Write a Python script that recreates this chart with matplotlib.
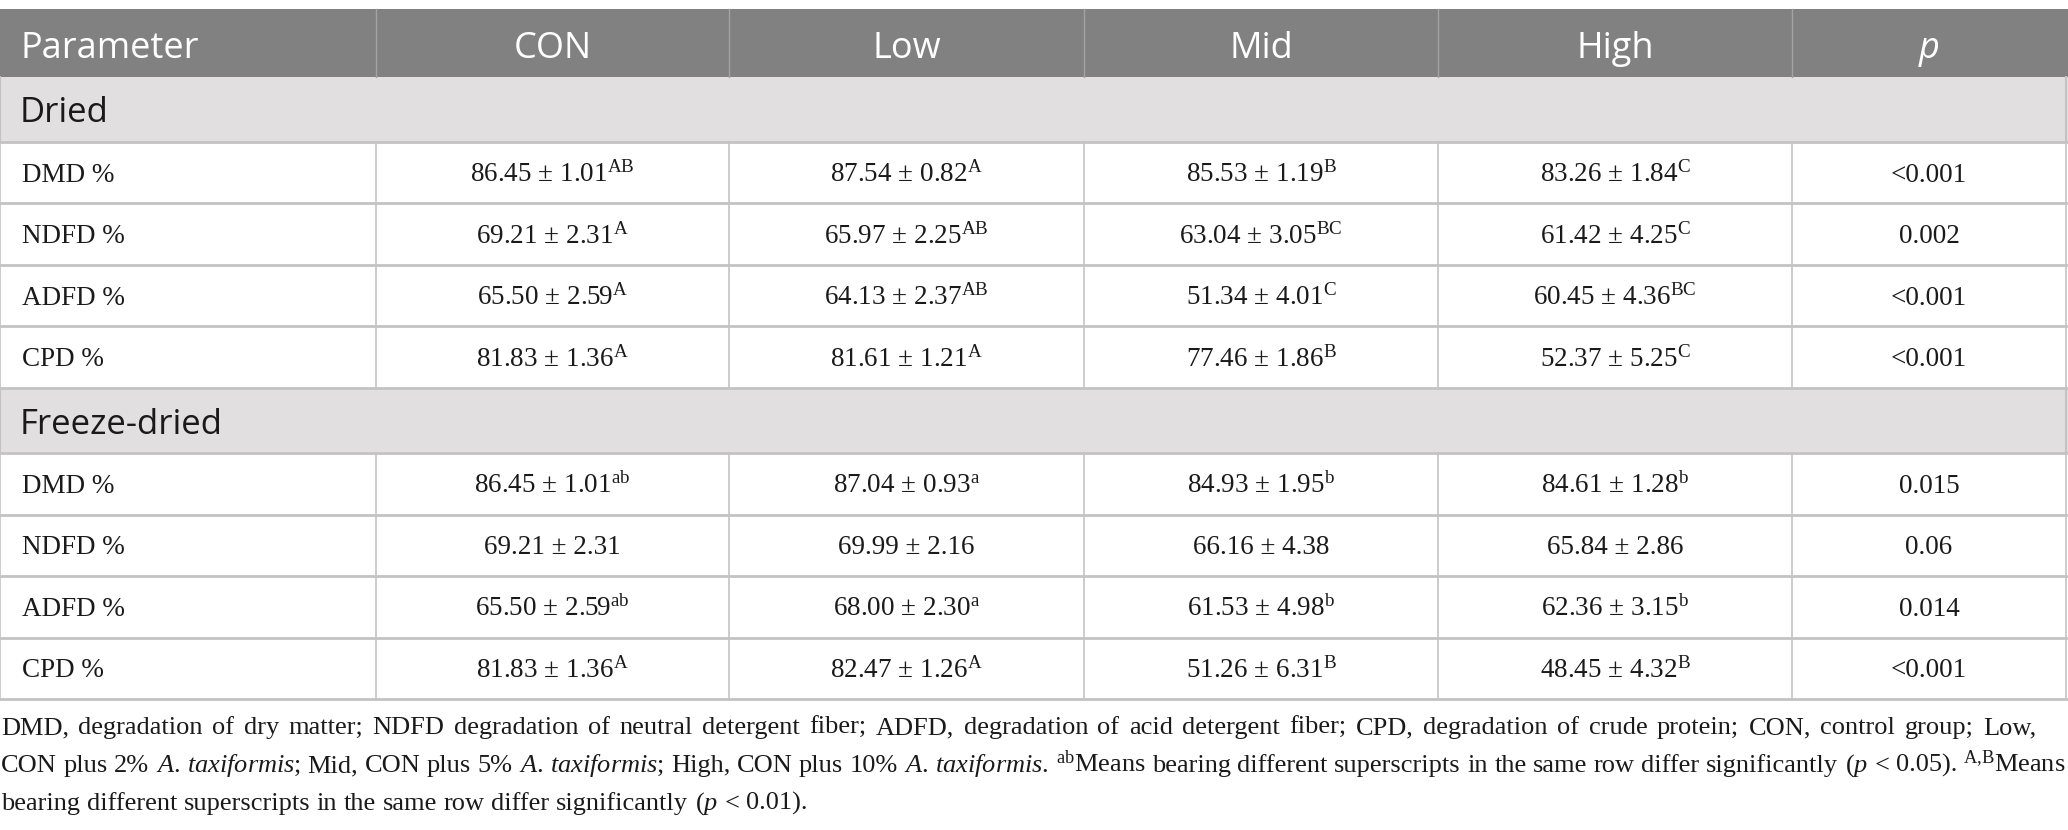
import matplotlib
matplotlib.use("Agg")
import matplotlib.pyplot as plt

# --- Dados da tabela ---
parametros = ["DMD %", "NDFD %", "ADFD %", "CPD %"]
grupos = ["CON", "Low", "Mid", "High"]
secoes = ["Dried", "Freeze-dried"]

dried_media = [[86.45, 87.54, 85.53, 83.26],
               [69.21, 65.97, 63.04, 61.42],
               [65.50, 64.13, 51.34, 60.45],
               [81.83, 81.61, 77.46, 52.37]]
dried_dp = [[1.01, 0.82, 1.19, 1.84],
            [2.31, 2.25, 3.05, 4.25],
            [2.59, 2.37, 4.01, 4.36],
            [1.36, 1.21, 1.86, 5.25]]
dried_sup = [["AB", "A", "B", "C"],
             ["A", "AB", "BC", "C"],
             ["A", "AB", "C", "BC"],
             ["A", "A", "B", "C"]]
dried_p = ["<0.001", "0.002", "<0.001", "<0.001"]

freeze_media = [[86.45, 87.04, 84.93, 84.61],
                [69.21, 69.99, 66.16, 65.84],
                [65.50, 68.00, 61.53, 62.36],
                [81.83, 82.47, 51.26, 48.45]]
freeze_dp = [[1.01, 0.93, 1.95, 1.28],
             [2.31, 2.16, 4.38, 2.86],
             [2.59, 2.30, 4.98, 3.15],
             [1.36, 1.26, 6.31, 4.32]]
freeze_sup = [["ab", "a", "b", "b"],
              ["", "", "", ""],
              ["ab", "a", "b", "b"],
              ["A", "A", "B", "B"]]
freeze_p = ["0.015", "0.06", "0.014", "<0.001"]

# Nota de rodapé (cada linha já quebrada como no original)
nota_linhas = [
    "DMD, degradation of dry matter; NDFD degradation of neutral detergent fiber; ADFD, degradation of acid detergent fiber; CPD, degradation of crude protein; CON, control group; Low,",
    r"CON plus 2% $\mathit{A.}$ $\mathit{taxiformis}$; Mid, CON plus 5% $\mathit{A.}$ $\mathit{taxiformis}$; High, CON plus 10% $\mathit{A.}$ $\mathit{taxiformis}$. ${}^{\mathrm{ab}}$Means bearing different superscripts in the same row differ significantly ($\mathit{p}$ < 0.05). ${}^{\mathrm{A{,}B}}$Means",
    r"bearing different superscripts in the same row differ significantly ($\mathit{p}$ < 0.01).",
]

# --- Layout (pixels) ---
W, H = 2068, 830
colunas_x = [0, 376, 729, 1084, 1438, 1792, 2066]
topo_cab, base_cab = 9, 77
altura_secao = 65
altura_linha = 61.5

COR_CAB = "#808180"
COR_SECAO = "#e1dfe0"
COR_LINHA = "#c3c3c3"
SERIF = "Liberation Serif"
SANS = "Open Sans"
FS_CORPO = 19.5
FS_NOTA = 19

plt.rcParams["mathtext.fontset"] = "custom"
plt.rcParams["mathtext.rm"] = SERIF
plt.rcParams["mathtext.it"] = SERIF + ":italic"

fig = plt.figure(figsize=(W / 100, H / 100), dpi=100)
ax = fig.add_axes([0, 0, 1, 1])
ax.set_xlim(0, W)
ax.set_ylim(H, 0)
ax.axis("off")

# --- Cabeçalho ---
ax.add_patch(plt.Rectangle((0, topo_cab), W, base_cab - topo_cab, color=COR_CAB, lw=0))
for x in colunas_x[1:-1]:
    ax.plot([x, x], [topo_cab, base_cab], color="#a3a3a3", lw=1)
yb = (topo_cab + base_cab) / 2 + 15
ax.text(20, yb, "Parameter", family=SANS, fontsize=26, color="white", va="baseline")
for j, g in enumerate(grupos):
    xc = (colunas_x[j + 1] + colunas_x[j + 2]) / 2
    ax.text(xc, yb, g, family=SANS, fontsize=26, color="white", ha="center", va="baseline")
ax.text((colunas_x[5] + colunas_x[6]) / 2, yb, "p", family=SANS, fontsize=26, style="italic",
        color="white", ha="center", va="baseline")


def celula(media, dp, sup):
    txt = f"{media:.2f} ± {dp:.2f}"
    if sup:
        txt += r"${}^{\mathrm{" + sup + "}}$"
    return txt


y = base_cab
blocos = [(dried_media, dried_dp, dried_sup, dried_p),
          (freeze_media, freeze_dp, freeze_sup, freeze_p)]
for s, (medias, dps, sups, ps) in zip(secoes, blocos):
    # faixa da seção
    ax.add_patch(plt.Rectangle((0, y), W, altura_secao, color=COR_SECAO, lw=0))
    ax.text(20, y + altura_secao / 2 + 13, s, family=SANS, fontsize=25, color="#1a1a1a", va="baseline")
    ax.plot([0, 0], [y, y + altura_secao], color=COR_LINHA, lw=1.5)
    ax.plot([colunas_x[-1], colunas_x[-1]], [y, y + altura_secao], color=COR_LINHA, lw=1.5)
    y += altura_secao
    for i, par in enumerate(parametros):
        y0, y1 = y, y + altura_linha
        ax.plot([0, W], [y0, y0], color=COR_LINHA, lw=2)
        for x in colunas_x:
            ax.plot([x, x], [y0, y1], color=COR_LINHA, lw=1.2)
        base = (y0 + y1) / 2 + 9
        ax.text(22, base, par, family=SERIF, fontsize=FS_CORPO, color="#1a1a1a", va="baseline")
        for j in range(4):
            xc = (colunas_x[j + 1] + colunas_x[j + 2]) / 2
            ax.text(xc, base, celula(medias[i][j], dps[i][j], sups[i][j]), family=SERIF,
                    fontsize=FS_CORPO, color="#1a1a1a", ha="center", va="baseline")
        ax.text((colunas_x[5] + colunas_x[6]) / 2, base, ps[i], family=SERIF, fontsize=FS_CORPO,
                color="#1a1a1a", ha="center", va="baseline")
        y = y1
    ax.plot([0, W], [y, y], color=COR_LINHA, lw=2)

# --- Nota de rodapé justificada ---
renderer = fig.canvas.get_renderer()
aux1 = ax.text(0, 0, "a a", family=SERIF, fontsize=FS_NOTA)
aux2 = ax.text(0, 0, "aa", family=SERIF, fontsize=FS_NOTA)
espaco_nat = aux1.get_window_extent(renderer).width - aux2.get_window_extent(renderer).width
aux1.remove()
aux2.remove()

bases_nota = [734, 772, 810]
fins_nota = [2036, 2066, None]
for linha, yb, fim in zip(nota_linhas, bases_nota, fins_nota):
    palavras = linha.split(" ")
    textos = [ax.text(0, yb, p, family=SERIF, fontsize=FS_NOTA, color="#1a1a1a", va="baseline")
              for p in palavras]
    larguras = [t.get_window_extent(renderer).width for t in textos]
    if fim is None:
        gap = espaco_nat
    else:
        gap = max((fim - 1 - sum(larguras)) / (len(palavras) - 1), espaco_nat * 0.6)
    x = 1
    for t, w in zip(textos, larguras):
        t.set_x(x)
        x += w + gap

fig.savefig("out.png", dpi=100, facecolor="white")
